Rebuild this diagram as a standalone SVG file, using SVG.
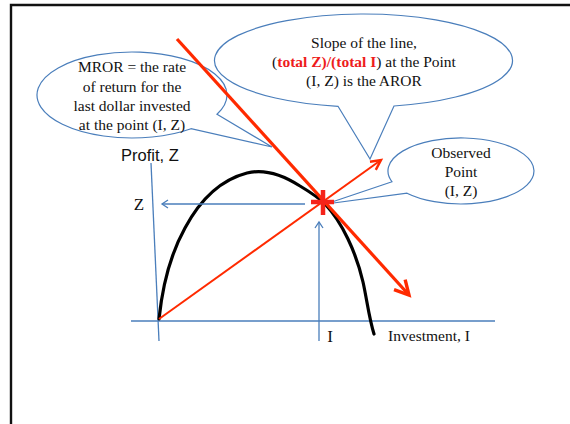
<svg xmlns="http://www.w3.org/2000/svg" width="570" height="424" viewBox="0 0 570 424">
<style>
.call{fill:#fff;stroke:#4a7ebb;stroke-width:1.2}
.t{font-family:"Liberation Serif","Times New Roman",serif;font-size:15.5px;fill:#111;text-anchor:middle}
.big{font-size:17px}
.ax{stroke:#4a7ebb;stroke-width:1.3;fill:none}
.red{stroke:#ff2a00;fill:none}
</style>
<defs>
<marker id="ba" markerUnits="userSpaceOnUse" markerWidth="12" markerHeight="12" refX="0" refY="0" viewBox="-8 -6 10 12" orient="auto" overflow="visible">
<path d="M-6,-4 L0,0 L-6,4" fill="none" stroke="#4a7ebb" stroke-width="1.3"/>
</marker>
<marker id="ra" markerUnits="userSpaceOnUse" viewBox="-16 -10 18 20" markerWidth="18" markerHeight="20" refX="0" refY="0" orient="auto" overflow="visible">
<path d="M-14,-7.5 L0,0 L-14,7.5" fill="none" stroke="#ff2a00" stroke-width="3.4"/>
</marker>
<marker id="rs" markerUnits="userSpaceOnUse" viewBox="-12 -8 14 16" markerWidth="14" markerHeight="16" refX="0" refY="0" orient="auto" overflow="visible">
<path d="M-10,-5 L0,0 L-10,5" fill="none" stroke="#ff2a00" stroke-width="2.4"/>
</marker>
</defs>
<rect width="570" height="424" fill="#fff"/>
<g id="frame">
<path d="M11,424 L11,5 L570,5" fill="none" stroke="#111" stroke-width="2.4"/>
</g>
<g id="mror-callout">
<path class="call" d="M217,114.2 L272,147 L191,128.7 A95,43 0 1 1 217,114.2 Z"/>
<text class="t" x="132" y="72">MROR = the rate</text>
<text class="t" x="132" y="92">of return for the</text>
<text class="t" x="132" y="111">last dollar invested</text>
<text class="t" x="132" y="130">at the point (I, Z)</text>
</g>
<g id="aror-callout">
<path class="call" d="M338,106.3 L370,159 L394,106 A149,46.5 0 1 0 338,106.3 Z"/>
<text class="t" x="364" y="48">Slope of the line,</text>
<text class="t" x="364" y="67">(<tspan fill="#ee1c1c" font-weight="bold">total Z)/(total I</tspan>) at the Point</text>
<text class="t" x="364" y="86">(I, Z) is the AROR</text>
</g>
<g id="observed-callout">
<path class="call" d="M392,181.8 L326,204 L407,193.2 A73,33 0 1 0 392,181.8 Z"/>
<text class="t" x="461" y="158">Observed</text>
<text class="t" x="461" y="177">Point</text>
<text class="t" x="461" y="196">(I, Z)</text>
</g>
<g id="axes">
<line class="ax" x1="151" y1="163" x2="159" y2="341"/>
<line class="ax" x1="131" y1="321" x2="495" y2="321"/>
<text x="121" y="161" font-family="Liberation Sans, Arial, sans-serif" font-size="16.5" fill="#111">Profit, Z</text>
<text class="t big" x="139" y="210">Z</text>
<text class="t big" x="330" y="342">I</text>
<text class="t" x="429" y="341">Investment, I</text>
</g>
<g id="curve">
<path d="M159,319 C162,290 170,255 185,228 C200,200 220,180 247,173 C265,168.5 283,175 300,186 C310,192 318,197 325,204 C342,222 356,252 363,282 C367,300 369,318 374,334" fill="none" stroke="#000" stroke-width="3.2" stroke-linecap="round"/>
</g>
<g id="connectors">
<line class="ax" x1="305" y1="204" x2="162" y2="204" marker-end="url(#ba)"/>
<line class="ax" x1="319" y1="341" x2="319" y2="222" marker-end="url(#ba)"/>
<line class="red" x1="177" y1="39" x2="409" y2="295" stroke-width="3.2" marker-end="url(#ra)"/>
<line class="red" x1="159" y1="319" x2="381" y2="160" stroke-width="2" marker-end="url(#rs)"/>
</g>
<g id="point">
<line x1="323" y1="190" x2="323" y2="215" stroke="#f5231a" stroke-width="4.5"/>
<line x1="311" y1="202" x2="334" y2="202" stroke="#f5231a" stroke-width="4.5"/>
</g>
</svg>
